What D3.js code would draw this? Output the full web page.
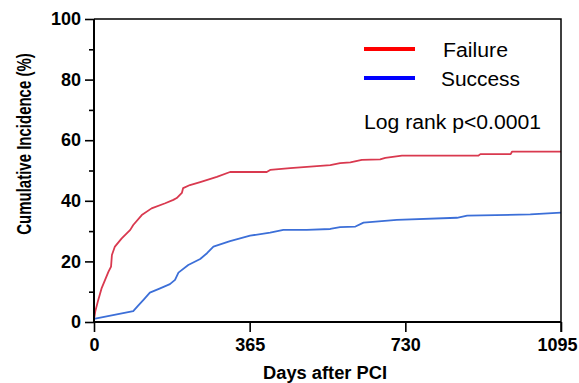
<!DOCTYPE html>
<html>
<head>
<meta charset="utf-8">
<script src="https://cdn.jsdelivr.net/npm/d3@7"></script>
<style>
  html, body { margin: 0; padding: 0; background: #fff; }
  svg { display: block; font-family: "Liberation Sans", Arial, Helvetica, sans-serif; }
</style>
</head>
<body>
<svg id="chart" width="579" height="383"></svg>
<script>
// Cumulative incidence by PCI outcome (days after PCI, percent)
const failureDays = [0, 3, 10, 18, 26, 34, 40, 42, 49, 65, 85, 92, 112, 135, 167, 186, 194, 206, 209, 225, 249, 288, 319, 405, 413, 460, 554, 577, 601, 628, 671, 683, 722, 901, 906, 977, 980, 1095];
const failureValues = [0.8, 3.5, 7.3, 11.2, 13.9, 16.6, 18.3, 22.1, 24.9, 27.6, 30.4, 32.0, 35.3, 37.5, 39.2, 40.3, 40.9, 42.6, 44.2, 45.2, 46.2, 47.9, 49.5, 49.5, 50.2, 50.8, 51.8, 52.4, 52.7, 53.5, 53.7, 54.2, 54.9, 54.9, 55.4, 55.4, 56.2, 56.2];
const successDays = [0, 92, 103, 116, 131, 155, 178, 190, 198, 221, 249, 265, 280, 319, 366, 413, 444, 499, 554, 577, 613, 632, 710, 851, 875, 1023, 1095];
const successValues = [1.0, 3.6, 5.3, 7.3, 9.7, 11.1, 12.5, 13.9, 16.3, 18.8, 20.8, 22.7, 24.9, 26.7, 28.5, 29.5, 30.4, 30.4, 30.7, 31.3, 31.5, 32.8, 33.7, 34.4, 35.1, 35.5, 36.1];

const xTicks = [0, 365, 730, 1095];
const yTicks = [0, 20, 40, 60, 80, 100];
const yMinorTicks = [10, 30, 50, 70, 90];
const legendLabels = ["Failure", "Success"];
const statText = "Log rank p<0.0001";
const xTitle = "Days after PCI";
const yTitle = "Cumulative Incidence (%)";

const svg = d3.select("#chart");
const m = { left: 94, top: 19, right: 561, bottom: 322 };

const x = d3.scaleLinear().domain([0, 1095]).range([m.left, m.right]);
const y = d3.scaleLinear().domain([0, 100]).range([m.bottom, m.top]);

const line = d3.line().x(d => x(d[0])).y(d => y(d[1]));

// incidence curves
const series = [
  { days: failureDays, vals: failureValues, color: "#d9394f" },
  { days: successDays, vals: successValues, color: "#3c6fd8" }
];
series.forEach(s => {
  svg.append("path")
    .datum(s.days.map((d, i) => [d, s.vals[i]]))
    .attr("fill", "none")
    .attr("stroke", s.color)
    .attr("stroke-width", 1.8)
    .attr("stroke-linejoin", "round")
    .attr("d", line);
});

// frame: top and right
svg.append("path")
  .attr("d", `M${m.left},${m.top}H${m.right}V${m.bottom + 10}`)
  .attr("fill", "none").attr("stroke", "#000").attr("stroke-width", 1.5);

// y axis
const yAxis = svg.append("g").attr("transform", `translate(${m.left},0)`)
  .call(d3.axisLeft(y).tickValues(yTicks).tickSize(9).tickPadding(4));
const yMinor = svg.append("g").attr("transform", `translate(${m.left},0)`)
  .call(d3.axisLeft(y).tickValues(yMinorTicks).tickSize(5).tickFormat(""));
yMinor.select(".domain").remove();

// x axis
const xAxis = svg.append("g").attr("transform", `translate(0,${m.bottom})`)
  .call(d3.axisBottom(x).tickValues(xTicks).tickFormat(d3.format("d")).tickSize(10).tickPadding(6));

[yAxis, yMinor, xAxis].forEach(g => {
  g.selectAll("line").attr("stroke", "#000").attr("stroke-width", 1.6);
  g.select(".domain").attr("stroke", "#000").attr("stroke-width", 2);
  g.selectAll("text")
    .attr("fill", "#000")
    .attr("font-family", "'Liberation Sans', Arial, sans-serif")
    .attr("font-weight", "bold")
    .attr("font-size", 18);
});
yAxis.select(".domain").attr("d", `M0,${m.top}V${m.bottom}`);
xAxis.select(".domain").attr("d", `M${m.left},0H${m.right}`);
// keep the last label inside the page
xAxis.selectAll(".tick text").filter(d => d === 1095).attr("dx", -4);

// axis titles
svg.append("text")
  .attr("x", 325).attr("y", 379)
  .attr("text-anchor", "middle")
  .attr("font-weight", "bold").attr("font-size", 18.3)
  .text(xTitle);

svg.append("text")
  .attr("transform", "translate(31,144) rotate(-90) scale(1,1.3)")
  .attr("text-anchor", "middle")
  .attr("font-weight", "bold").attr("font-size", 15)
  .text(yTitle);

// legend
const legendColors = ["#ff0000", "#0000ff"];
const legendY = [49, 78];
const legendTextX = [443, 441];
const legendTextW = [65, 79];
legendLabels.forEach((lab, i) => {
  svg.append("line")
    .attr("x1", 364).attr("x2", 415)
    .attr("y1", legendY[i]).attr("y2", legendY[i])
    .attr("stroke", legendColors[i]).attr("stroke-width", 4);
  svg.append("text")
    .attr("x", legendTextX[i]).attr("y", legendY[i] + 8)
    .attr("font-size", 20)
    .attr("textLength", legendTextW[i]).attr("lengthAdjust", "spacingAndGlyphs")
    .text(lab);
});

svg.append("text")
  .attr("x", 364).attr("y", 129)
  .attr("font-size", 20)
  .attr("textLength", 177).attr("lengthAdjust", "spacingAndGlyphs")
  .text(statText);
</script>
</body>
</html>
